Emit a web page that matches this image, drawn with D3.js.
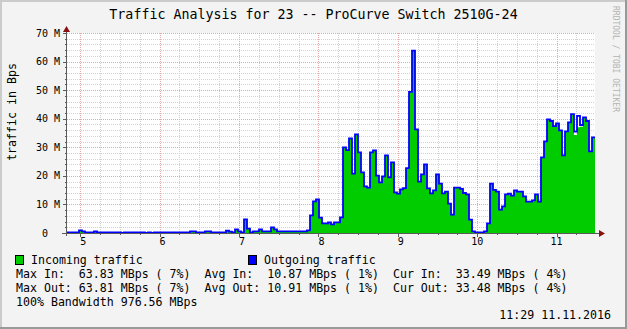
<!DOCTYPE html>
<html><head><meta charset="utf-8">
<script src="https://cdn.jsdelivr.net/npm/d3@7"></script>
<style>
body{margin:0;background:#f3f3f3}
svg{display:block}
text{font-family:"DejaVu Sans Mono",monospace;white-space:pre;fill:#000}
</style>
</head><body>
<svg id="c" width="627" height="329" xml:space="preserve"></svg>
<script>
// ---------- data ----------
const title = "Traffic Analysis for 23 -- ProCurve Switch 2510G-24";
const yAxisTitle = "traffic in Bps";
const yTickValues = [0, 10, 20, 30, 40, 50, 60, 70];           // MBps
const yTickLabels = ["0  ", "10 M", "20 M", "30 M", "40 M", "50 M", "60 M", "70 M"];
const xTickHours = [5, 6, 7, 8, 9, 10, 11];
const xTickLabels = [" 5", " 6", " 7", " 8", " 9", "10", "11"];
const startTime = [2016, 10, 11, 4, 50];
const endTime = [2016, 10, 11, 11, 29];
const seriesNames = ["Incoming traffic", "Outgoing traffic"];
const seriesColors = ["#00cc00", "#0000ff"];
// MBps per sampling step
const incoming = [
0.25,0.25,0.25,0.25,0.9,0.6,0.25,0.25,0.25,0.6,
0.25,0.25,0.25,0.25,0.25,0.25,0.25,0.25,0,0.25,
0.25,0.25,0.25,0.25,0.25,0.25,0,0.25,0,0.25,
0.25,0.25,0.25,0.25,0.25,0.25,0.25,0.25,0.25,0.25,
0.25,0.6,0.6,0.25,0.25,0.25,0.6,0.6,0.25,0.25,
0.25,0.25,0.25,0.85,0.5,0.25,1.3,0.6,0.25,4.8,
1.5,0.25,0.6,0.6,1.3,0.6,0.6,0.6,2.0,1.3,
0.6,0.6,0.6,0.6,0.6,0.6,0.6,0.6,0.6,0.6,
0.95,6.2,11.1,11.8,5.4,3.4,3.4,3.75,3.05,3.75,
3.75,5.5,30.0,29.0,33.1,20.8,34.5,28.2,21.2,16.3,
15.9,28.2,28.9,20.1,17.7,19.8,27.2,19.5,24.7,14.2,
13.8,15.3,15.7,22.7,49.4,63.83,36.3,18.0,20.5,24.0,
15.6,13.9,14.9,20.5,17.3,13.9,14.5,10.3,6.45,15.9,
15.9,15.45,14.0,13.5,4.7,0.6,0.25,0.25,0.25,0.6,
3.4,17.3,15.1,14.5,8.2,9.3,13.5,13.8,13.1,14.9,
14.5,14.5,12.8,11.0,11.0,11.4,13.5,11.0,26.5,32.1,
39.8,39.2,37.4,38.4,35.9,27.2,35.6,38.7,41.6,34.3,
37.0,37.2,40.5,39.2,28.6,33.49
];
const outgoing = [
0.25,0.25,0.25,0.25,0.9,0.6,0.25,0.25,0.25,0.6,
0.25,0.25,0.25,0.25,0.25,0.25,0.25,0.25,0,0.25,
0.25,0.25,0.25,0.25,0.25,0.25,0,0.25,0,0.25,
0.25,0.25,0.25,0.25,0.25,0.25,0.25,0.25,0.25,0.25,
0.25,0.6,0.6,0.25,0.25,0.25,0.6,0.6,0.25,0.25,
0.25,0.25,0.25,0.85,0.5,0.25,1.3,0.6,0.25,4.8,
1.5,0.25,0.6,0.6,1.3,0.6,0.6,0.6,2.0,1.3,
0.6,0.6,0.6,0.6,0.6,0.6,0.6,0.6,0.6,0.6,
0.95,6.2,11.1,11.8,5.4,3.4,3.4,3.75,3.05,3.75,
3.75,5.5,30.0,29.0,33.1,20.8,34.5,28.2,21.2,16.3,
15.9,28.2,28.9,20.1,17.7,19.8,27.2,19.5,24.7,14.2,
13.8,15.3,15.7,22.7,49.4,63.81,36.3,18.0,20.5,24.0,
15.6,13.9,14.9,20.5,17.3,13.9,14.5,10.3,6.45,15.9,
15.9,15.45,14.0,13.5,4.7,0.6,0.25,0.25,0.25,0.6,
3.4,17.3,15.1,14.5,8.2,9.3,13.5,13.8,13.1,14.9,
14.5,14.5,12.8,11.0,11.0,11.4,13.5,11.0,26.5,32.1,
39.8,39.2,37.4,38.4,35.9,27.2,35.6,38.7,41.6,35.5,
41.0,37.8,40.5,39.2,28.6,33.48
];
const statsRows = [
  "Max In:  63.83 MBps ( 7%)  Avg In:  10.87 MBps ( 1%)  Cur In:  33.49 MBps ( 4%)",
  "Max Out: 63.81 MBps ( 7%)  Avg Out: 10.91 MBps ( 1%)  Cur Out: 33.48 MBps ( 4%)",
  "100% Bandwidth 976.56 MBps"
];
const timestampText = "11:29 11.11.2016";
const watermark = "RRDTOOL / TOBI OETIKER";

// ---------- drawing ----------
const W = 627, H = 329;
const svg = d3.select("#c");
const P = {l: 67, r: 595, t: 33, b: 233};
const t0 = new Date(...startTime), t1 = new Date(...endTime);
const x = d3.scaleTime().domain([t0, t1]).range([P.l, P.r]);
const y = d3.scaleLinear().domain([0, 70]).range([P.b, P.t]);

// background + frame shades
svg.append("rect").attr("width", W).attr("height", H).attr("fill", "#f3f3f3");
svg.append("path").attr("d", `M0,0H${W}V2H2V${H}H0Z`).attr("fill", "#cbcbcb");
svg.append("path").attr("d", `M${W},0V${H}H0V${H-2}H${W-2}V0Z`).attr("fill", "#999999");

// canvas
svg.append("rect").attr("x", P.l).attr("y", P.t).attr("width", P.r - P.l).attr("height", P.b - P.t).attr("fill", "#fff");

const crisp = v => Math.round(v) + 0.5;
const grid = svg.append("g");
// minor horizontal grid
d3.range(2, 70, 2).filter(v => v % 10 !== 0).forEach(v => {
  grid.append("line").attr("x1", P.l).attr("x2", P.r).attr("y1", crisp(y(v))).attr("y2", crisp(y(v)))
    .attr("stroke", "#d2d2d2").attr("stroke-dasharray", "1,1");
});
// minor vertical grid (15 min)
const minorTimes = d3.timeMinute.every(15).range(t0, t1).filter(d => d.getMinutes() !== 0);
minorTimes.forEach(d => {
  grid.append("line").attr("x1", crisp(x(d))).attr("x2", crisp(x(d))).attr("y1", P.t).attr("y2", P.b)
    .attr("stroke", "#d2d2d2").attr("stroke-dasharray", "1,1");
});
// major grid
yTickValues.filter(v => v > 0).forEach(v => {
  grid.append("line").attr("x1", P.l).attr("x2", P.r).attr("y1", crisp(y(v))).attr("y2", crisp(y(v)))
    .attr("stroke", "#e0a8a8").attr("stroke-dasharray", "1,1");
});
const hourDates = xTickHours.map(h => new Date(startTime[0], startTime[1], startTime[2], h, 0));
hourDates.forEach(d => {
  grid.append("line").attr("x1", crisp(x(d))).attr("x2", crisp(x(d))).attr("y1", P.t).attr("y2", P.b)
    .attr("stroke", "#e0a8a8").attr("stroke-dasharray", "1,1");
});

// series
const N = incoming.length;
const stepMs = (t1 - t0) / N;
const toPts = arr => arr.map((v, i) => ({t: new Date(+t0 + i * stepMs), v}))
  .concat([{t: t1, v: arr[arr.length - 1]}]);
const area = d3.area().x(d => x(d.t)).y0(y(0)).y1(d => y(d.v)).curve(d3.curveStepAfter);
const line = d3.line().x(d => x(d.t)).y(d => y(d.v)).curve(d3.curveStepAfter);
svg.append("path").datum(toPts(incoming)).attr("d", area).attr("fill", seriesColors[0]);
svg.append("path").datum(toPts(outgoing)).attr("d", line).attr("fill", "none")
  .attr("stroke", seriesColors[1]).attr("stroke-width", 1.8);

// axes
const axisColor = "#5a5a5a";
svg.append("line").attr("x1", 62).attr("x2", 600).attr("y1", P.b + 0.5).attr("y2", P.b + 0.5).attr("stroke", axisColor);
svg.append("line").attr("x1", P.l - 0.5).attr("x2", P.l - 0.5).attr("y1", 236).attr("y2", 30).attr("stroke", axisColor);
// ticks
d3.range(2, 72, 2).forEach(v => {
  const major = v % 10 === 0;
  svg.append("line").attr("x1", P.l - (major ? 4 : 2)).attr("x2", P.l)
    .attr("y1", crisp(y(v))).attr("y2", crisp(y(v))).attr("stroke", axisColor);
});
minorTimes.concat(hourDates).forEach(d => {
  const major = d.getMinutes() === 0;
  svg.append("line").attr("x1", crisp(x(d))).attr("x2", crisp(x(d)))
    .attr("y1", P.b).attr("y2", P.b + (major ? 4 : 2)).attr("stroke", axisColor);
});
// arrows
svg.append("path").attr("d", `M${P.l - 0.5},26 L${P.l + 3},32 L${P.l - 4},32 Z`).attr("fill", "#8b1010");
svg.append("path").attr("d", `M605,${P.b + 0.5} L599,${P.b - 3} L599,${P.b + 4} Z`).attr("fill", "#8b1010");

// tick labels
yTickValues.forEach((v, i) => {
  svg.append("text").attr("x", 60).attr("y", y(v) + 3.6).attr("text-anchor", "end")
    .attr("font-size", 10).text(yTickLabels[i]);
});
hourDates.forEach((d, i) => {
  svg.append("text").attr("x", x(d)).attr("y", 245).attr("text-anchor", "middle")
    .attr("font-size", 10).text(xTickLabels[i]);
});

// titles
svg.append("text").attr("x", 313.5).attr("y", 18.5).attr("text-anchor", "middle")
  .attr("font-size", 13.3).text(title);
svg.append("text").attr("transform", "translate(15.5,112) rotate(-90)").attr("text-anchor", "middle")
  .attr("font-size", 11.6).text(yAxisTitle);
svg.append("text").attr("transform", "translate(613,6) rotate(90)").attr("text-anchor", "start")
  .attr("font-size", 8).style("fill", "#b4b4b4").text(watermark);

// legend
const legX = [15, 248];
seriesNames.forEach((n, i) => {
  svg.append("rect").attr("x", legX[i] + 0.5).attr("y", 255.5).attr("width", 8).attr("height", 9)
    .attr("fill", seriesColors[i]).attr("stroke", "#000");
  svg.append("text").attr("x", legX[i] + 16).attr("y", 263.5).attr("font-size", 11.6).text(n);
});
statsRows.forEach((r, i) => {
  svg.append("text").attr("x", 16).attr("y", 277.5 + i * 14).attr("font-size", 11.6).text(r);
});
svg.append("text").attr("x", 611).attr("y", 319).attr("text-anchor", "end").attr("font-size", 11.6).text(timestampText);
</script>
</body></html>
